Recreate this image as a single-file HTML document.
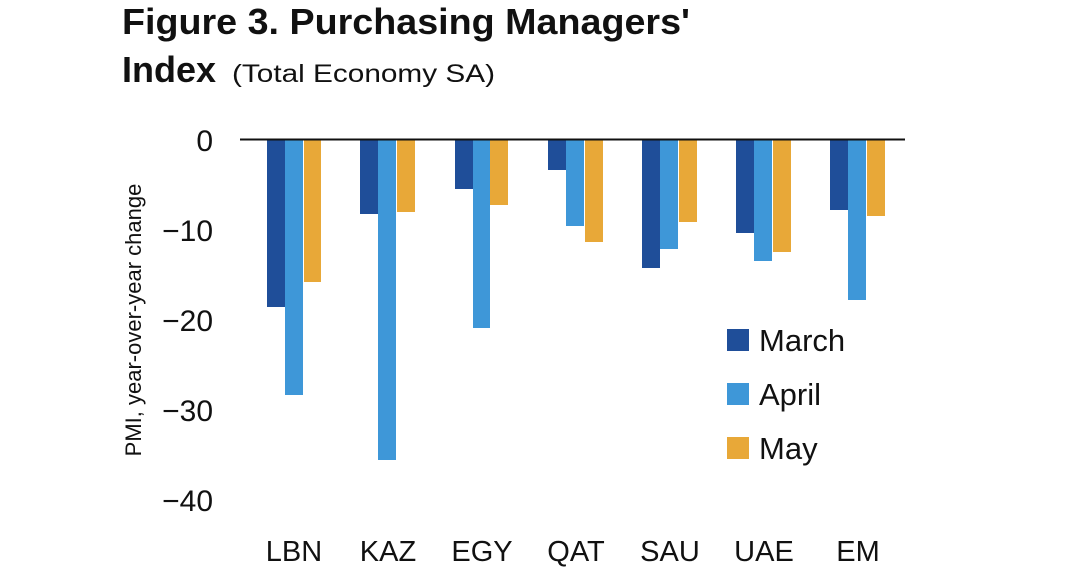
<!DOCTYPE html>
<html><head><style>
body{margin:0;background:#fff;}
svg text{font-family:"Liberation Sans",sans-serif;fill:#111;}
</style></head><body>
<svg width="1068" height="580" xmlns="http://www.w3.org/2000/svg">
<text x="122" y="34" font-size="36" font-weight="bold" textLength="568" lengthAdjust="spacingAndGlyphs">Figure 3. Purchasing Managers'</text>
<text x="122" y="82" font-size="36" font-weight="bold">Index</text>
<text x="232" y="82" font-size="25" textLength="263" lengthAdjust="spacingAndGlyphs">(Total Economy SA)</text>
<g font-size="30" text-anchor="end">
<text x="213" y="151">0</text>
<text x="213" y="241">−10</text>
<text x="213" y="331">−20</text>
<text x="213" y="421">−30</text>
<text x="213" y="511">−40</text>
</g>
<text transform="translate(141,320) rotate(-90)" font-size="22" text-anchor="middle">PMI, year-over-year change</text>
<g>
<rect x="267" y="140" width="18" height="167" fill="#1f4e99"/>
<rect x="285" y="140" width="18" height="255" fill="#3e97d8"/>
<rect x="304" y="140" width="17" height="142" fill="#e8a838"/>
<rect x="360" y="140" width="18" height="74" fill="#1f4e99"/>
<rect x="378" y="140" width="18" height="320" fill="#3e97d8"/>
<rect x="397" y="140" width="18" height="72" fill="#e8a838"/>
<rect x="455" y="140" width="18" height="49" fill="#1f4e99"/>
<rect x="473" y="140" width="17" height="188" fill="#3e97d8"/>
<rect x="490" y="140" width="18" height="65" fill="#e8a838"/>
<rect x="548" y="140" width="18" height="30" fill="#1f4e99"/>
<rect x="566" y="140" width="18" height="86" fill="#3e97d8"/>
<rect x="585" y="140" width="18" height="102" fill="#e8a838"/>
<rect x="642" y="140" width="18" height="128" fill="#1f4e99"/>
<rect x="660" y="140" width="18" height="109" fill="#3e97d8"/>
<rect x="679" y="140" width="18" height="82" fill="#e8a838"/>
<rect x="736" y="140" width="18" height="93" fill="#1f4e99"/>
<rect x="754" y="140" width="18" height="121" fill="#3e97d8"/>
<rect x="773" y="140" width="18" height="112" fill="#e8a838"/>
<rect x="830" y="140" width="18" height="70" fill="#1f4e99"/>
<rect x="848" y="140" width="18" height="160" fill="#3e97d8"/>
<rect x="867" y="140" width="18" height="76" fill="#e8a838"/>
</g>
<line x1="240" y1="139.5" x2="905" y2="139.5" stroke="#111" stroke-width="2"/>
<g font-size="29" text-anchor="middle">
<text x="294" y="561">LBN</text>
<text x="388" y="561">KAZ</text>
<text x="482" y="561">EGY</text>
<text x="576" y="561">QAT</text>
<text x="670" y="561">SAU</text>
<text x="764" y="561">UAE</text>
<text x="858" y="561">EM</text>
</g>
<rect x="727" y="329" width="22" height="22" fill="#1f4e99"/>
<rect x="727" y="383" width="22" height="22" fill="#3e97d8"/>
<rect x="727" y="437" width="22" height="22" fill="#e8a838"/>
<g font-size="31">
<text x="759" y="351">March</text>
<text x="759" y="405">April</text>
<text x="759" y="459">May</text>
</g>
</svg>
</body></html>
